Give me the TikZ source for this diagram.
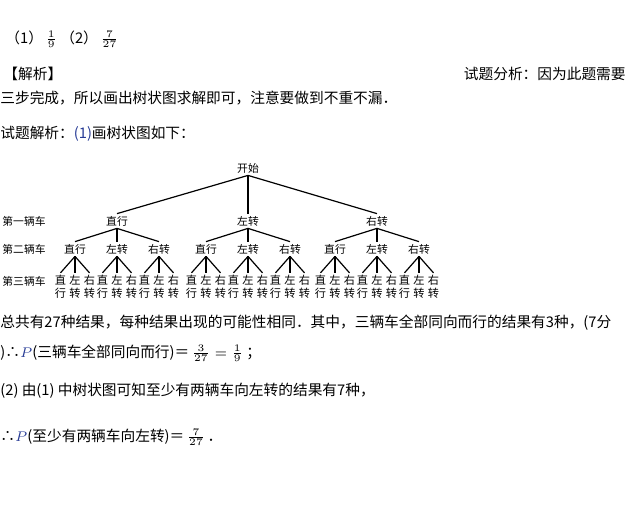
\documentclass[tikz,border=0pt]{standalone}
\usepackage{fontspec}
\setmainfont{Noto Sans CJK SC}
\newcommand\bodyfont{\fontsize{7.35}{9}\selectfont}
\newcommand\treefont{\fontsize{5.4}{6}\selectfont}
\newcommand\leaffont{\fontsize{5.6}{6.6}\selectfont}
\definecolor{mathblue}{RGB}{40,60,150}
\begin{document}
\begin{tikzpicture}[
    x=0.5pt,y=-0.5pt,
    txt/.style={anchor=base west,inner sep=0pt,font=\bodyfont},
    lbl/.style={inner sep=1pt,font=\treefont},
    leaf/.style={inner sep=1pt,align=center,font=\leaffont},
    rowlbl/.style={anchor=west,inner sep=0pt,font=\treefont},
    edge/.style={line width=0.6pt,draw=black}
  ]
    \useasboundingbox (0,0) rectangle (630,511);

    \node[txt] (answer) at (5,43)
      {（1）\,$\frac{1}{9}$\ （2）\,$\frac{7}{27}$};
    \node[txt] (jiexi) at (3,79) {【解析】};
    \node[txt,anchor=base east] (fenxi) at (626,79) {试题分析：因为此题需要};
    \node[txt] (fenxi2) at (0,103) {三步完成，所以画出树状图求解即可，注意要做到不重不漏．};
    \node[txt] (intro) at (0,138)
      {试题解析：\textcolor{mathblue}{(1)}画树状图如下：};

    % tree
    \node[rowlbl] (row1) at (2,221) {第一辆车};
    \node[rowlbl] (row2) at (2,249) {第二辆车};
    \node[rowlbl] (row3) at (2,281) {第三辆车};

    \node[lbl] (start) at (248,168) {开始};
    \foreach \i/\x/\t in {1/117/直行,2/248/左转,3/377/右转}{
      \node[lbl] (a\i) at (\x,221) {\t};
      \draw[edge] (start.south) -- (a\i.north);
      \foreach \j/\s in {1/直行,2/左转,3/右转}{
        \pgfmathsetmacro\bx{\x+(\j-2)*42}
        \node[lbl] (b\i\j) at (\bx,249) {\s};
        \draw[edge] (a\i.south) -- (b\i\j.north);
        \foreach \k/\u/\v in {1/直/行,2/左/转,3/右/转}{
          \pgfmathsetmacro\cx{\bx+(\k-2)*14.5}
          \node[leaf] (c\i\j\k) at (\cx,287) {\u\\\v};
          \draw[edge] (b\i\j.south) -- (c\i\j\k.north);
        }
      }
    }

    \node[txt] (total) at (0,327)
      {总共有27种结果，每种结果出现的可能性相同．其中，三辆车全部同向而行的结果有3种，(7分};
    \node[txt] (prob1) at (0,357)
      {)∴\textcolor{mathblue}{$P$}(三辆车全部同向而行)＝\,$\frac{3}{27}=\frac{1}{9}$\ ；};
    \node[txt] (part2) at (0,395)
      {(2) 由(1) 中树状图可知至少有两辆车向左转的结果有7种，};
    \node[txt] (prob2) at (0,441)
      {∴\textcolor{mathblue}{$P$}(至少有两辆车向左转)＝\,$\frac{7}{27}$\,．};
  \end{tikzpicture}
\end{document}
